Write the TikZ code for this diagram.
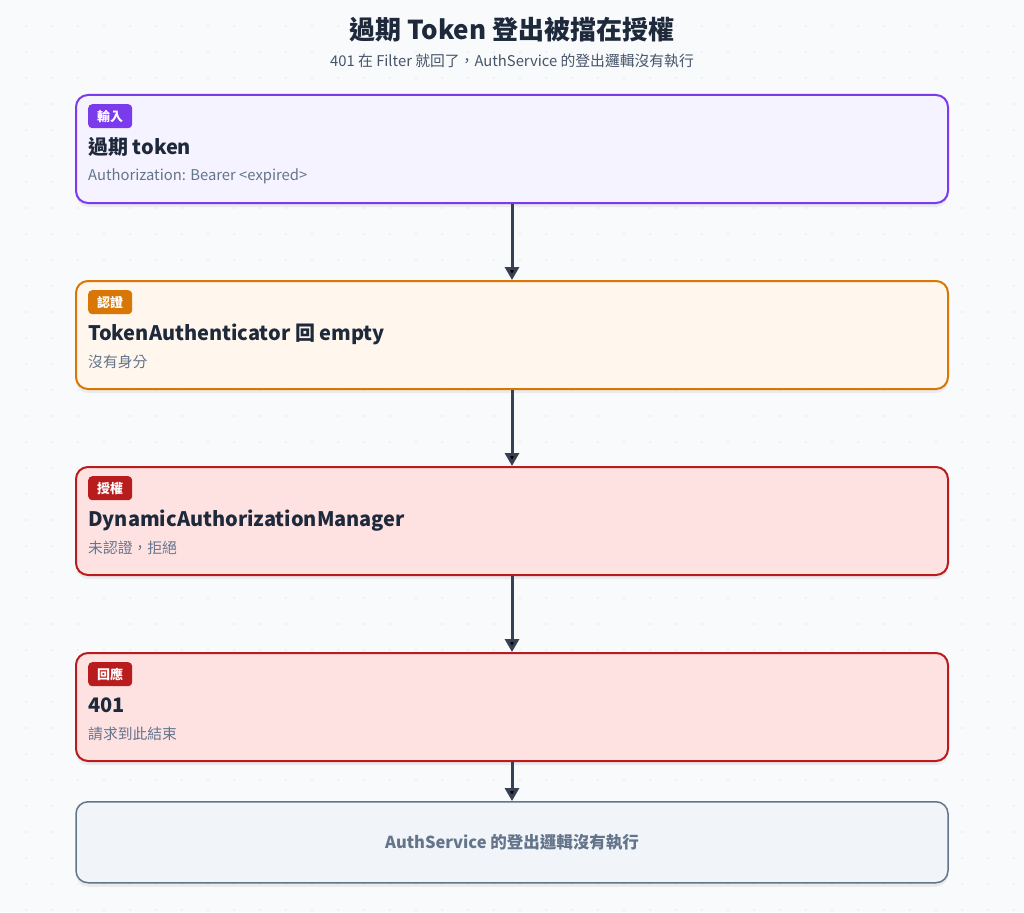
\documentclass[tikz,border=0pt]{standalone}
\usepackage{fontspec}
\setmainfont{Noto Sans CJK TC}
\usetikzlibrary{positioning}
\usetikzlibrary{arrows.meta,shadows}
\definecolor{pagebg}{HTML}{F8FAFC}
\definecolor{gridc}{HTML}{E2E8F0}
\definecolor{ink}{HTML}{1E293B}
\definecolor{muted}{HTML}{64748B}
\definecolor{subc}{HTML}{475569}
\definecolor{arrowc}{HTML}{374151}
\definecolor{inpline}{HTML}{7C3AED}
\definecolor{inpfill}{HTML}{F5F3FF}
\definecolor{authline}{HTML}{D97706}
\definecolor{authfill}{HTML}{FFF7ED}
\definecolor{denyline}{HTML}{B91C1C}
\definecolor{denyfill}{HTML}{FEE2E2}
\definecolor{endline}{HTML}{64748B}
\definecolor{endfill}{HTML}{F1F5F9}
\tikzset{
  stage/.style = {shape=rectangle, rounded corners=12pt, draw, line width=2pt,
                  minimum width=872pt, minimum height=108pt,
                  drop shadow={shadow xshift=0pt, shadow yshift=-4pt, opacity=0.06, fill=black}},
  tag/.style   = {shape=rectangle, rounded corners=4pt, inner sep=0pt,
                  minimum width=44pt, minimum height=24pt, text=white,
                  font=\bfseries\fontsize{13}{13}\selectfont},
  head/.style  = {inner sep=0pt, text=ink, text height=15pt, text depth=4pt,
                  font=\bfseries\fontsize{20}{20}\selectfont},
  note/.style  = {inner sep=0pt, text=muted, text height=11pt, text depth=3pt,
                  font=\fontsize{14.8}{14.8}\selectfont},
  flow/.style  = {-{Triangle[width=14pt,length=13pt]}, line width=3pt, draw=arrowc}
}

\begin{document}
\begin{tikzpicture}
  [
    x = 1pt,
    y = -1pt
  ]
  \fill[pagebg] (0,0) rectangle (1024,912);
  \useasboundingbox (0,0) rectangle (1024,912);
  \foreach \gx in {26,52,...,1014}
    \foreach \gy in {26,52,...,910}
      \fill[gridc] (\gx,\gy) circle (0.8pt);

  \node [font=\bfseries\fontsize{26}{26}\selectfont, text=ink] (title) at (512,30) {過期 Token 登出被擋在授權};
  \node [font=\fontsize{14.8}{14.8}\selectfont, text=subc] (subtitle) [below=5pt of title] {401 在 Filter 就回了，AuthService 的登出邏輯沒有執行};

  \node [stage, draw=inpline, fill=inpfill] (inp) at (512,149) {};
  \node [tag, fill=inpline] (inptag) [below right=10pt and 13pt of inp.north west] {輸入};
  \node [head] (inphead) [below=11pt of inptag.south west, anchor=north west] {過期 token};
  \node [note] (inpnote) [below=11pt of inphead.south west, anchor=north west] {Authorization: Bearer <expired>};

  \node [stage, draw=authline, fill=authfill] (auth) [below=76pt of inp] {};
  \node [tag, fill=authline] (authtag) [below right=10pt and 13pt of auth.north west] {認證};
  \node [head] (authhead) [below=11pt of authtag.south west, anchor=north west] {TokenAuthenticator 回 empty};
  \node [note] (authnote) [below=11pt of authhead.south west, anchor=north west] {沒有身分};

  \node [stage, draw=denyline, fill=denyfill] (azn) [below=76pt of auth] {};
  \node [tag, fill=denyline] (azntag) [below right=10pt and 13pt of azn.north west] {授權};
  \node [head] (aznhead) [below=11pt of azntag.south west, anchor=north west] {DynamicAuthorizationManager};
  \node [note] (aznnote) [below=11pt of aznhead.south west, anchor=north west] {未認證，拒絕};

  \node [stage, draw=denyline, fill=denyfill] (resp) [below=76pt of azn] {};
  \node [tag, fill=denyline] (resptag) [below right=10pt and 13pt of resp.north west] {回應};
  \node [head] (resphead) [below=11pt of resptag.south west, anchor=north west] {401};
  \node [note] (respnote) [below=11pt of resphead.south west, anchor=north west] {請求到此結束};

  \node [stage, draw=endline, fill=endfill, line width=1.5pt, minimum height=81pt,
         text=muted, font=\bfseries\fontsize{16.5}{16.5}\selectfont] (done) [below=39pt of resp] {AuthService 的登出邏輯沒有執行};

  \path[flow] (inp) edge (auth);
  \path[flow] (auth) edge (azn);
  \path[flow] (azn) edge (resp);
  \path[flow] (resp) edge (done);
\end{tikzpicture}
\end{document}
